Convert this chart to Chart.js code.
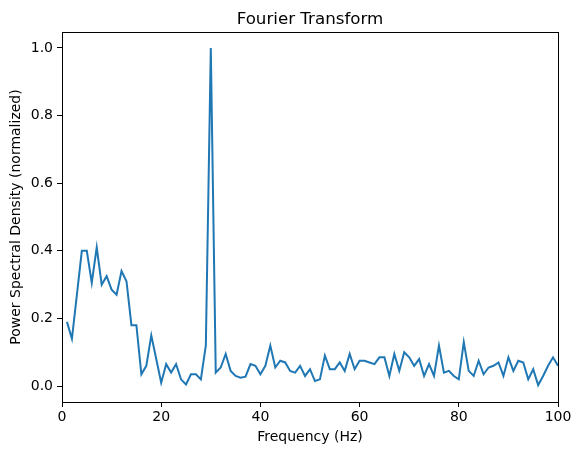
<!DOCTYPE html>
<html>
<head>
<meta charset="utf-8">
<script src="https://cdn.jsdelivr.net/npm/chart.js@4"></script>
<style>
  html, body { margin: 0; padding: 0; background: #fff; }
</style>
</head>
<body>
<canvas id="myChart" width="580" height="455"></canvas>
<script>
// Data
var freqs = [];
for (var f = 1; f <= 100; f++) freqs.push(f);

var psd = [
  0.19, 0.14, 0.27, 0.40, 0.40, 0.305, 0.41, 0.30, 0.325, 0.285,
  0.27, 0.34, 0.31, 0.18, 0.18, 0.035, 0.06, 0.15, 0.08, 0.01,
  0.065, 0.04, 0.065, 0.02, 0.005, 0.035, 0.035, 0.02, 0.12, 1.0,
  0.04, 0.055, 0.095, 0.045, 0.03, 0.025, 0.028, 0.065, 0.06, 0.035,
  0.06, 0.12, 0.055, 0.075, 0.07, 0.045, 0.04, 0.06, 0.03, 0.05,
  0.015, 0.02, 0.09, 0.05, 0.05, 0.07, 0.045, 0.095, 0.05, 0.075,
  0.075, 0.07, 0.065, 0.085, 0.085, 0.03, 0.095, 0.045, 0.1, 0.085,
  0.06, 0.08, 0.03, 0.065, 0.03, 0.12, 0.04, 0.045, 0.03, 0.02,
  0.13, 0.045, 0.03, 0.075, 0.035, 0.055, 0.06, 0.07, 0.03, 0.085,
  0.045, 0.075, 0.07, 0.02, 0.05, 0.003, 0.03, 0.06, 0.085, 0.06
];

var xTicks = [0, 20, 40, 60, 80, 100];
var yTicks = [0.0, 0.2, 0.4, 0.6, 0.8, 1.0];

var points = freqs.map(function (x, i) { return { x: x, y: psd[i] }; });

var font = "'DejaVu Sans', sans-serif";

// frame + title centred over the plot area
var framePlugin = {
  id: 'frame',
  afterDraw: function (chart) {
    var ctx = chart.ctx, a = chart.chartArea;
    ctx.save();
    ctx.strokeStyle = '#000';
    ctx.lineWidth = 1;
    ctx.strokeRect(Math.round(a.left) + 0.5, Math.round(a.top) + 0.5,
      Math.round(a.right - a.left), Math.round(a.bottom - a.top));
    ctx.fillStyle = '#000';
    ctx.font = '16.7px ' + font;
    ctx.textAlign = 'center';
    ctx.textBaseline = 'alphabetic';
    ctx.fillText('Fourier Transform', (a.left + a.right) / 2, 24);
    ctx.restore();
  }
};

new Chart(document.getElementById('myChart'), {
  type: 'line',
  data: {
    datasets: [{
      data: points,
      borderColor: '#1f77b4',
      borderWidth: 2,
      pointRadius: 0,
      tension: 0,
      fill: false
    }]
  },
  options: {
    responsive: false,
    animation: false,
    layout: { padding: { top: 32, left: 0, right: 22, bottom: 0 } },
    plugins: { legend: { display: false }, tooltip: { enabled: false } },
    scales: {
      x: {
        type: 'linear',
        min: 0,
        max: 100,
        afterFit: function (s) { s.height = 53; },
        afterBuildTicks: function (s) { s.ticks = xTicks.map(function (v) { return { value: v }; }); },
        grid: { display: true, drawOnChartArea: false, drawTicks: true, tickLength: 5, color: '#000' },
        border: { display: false },
        ticks: { color: '#000', font: { family: font, size: 14 }, padding: 2, maxRotation: 0,
          callback: function (v) { return v; } },
        title: { display: true, text: 'Frequency (Hz)', color: '#000',
          font: { family: font, size: 14 }, padding: { top: 4, bottom: 9 } }
      },
      y: {
        min: -0.047,
        max: 1.047,
        afterFit: function (s) { s.width = 62; },
        afterBuildTicks: function (s) { s.ticks = yTicks.map(function (v) { return { value: v }; }); },
        grid: { display: true, drawOnChartArea: false, drawTicks: true, tickLength: 5, color: '#000' },
        border: { display: false },
        ticks: { color: '#000', font: { family: font, size: 14 }, padding: 4,
          callback: function (v) { return v.toFixed(1); } },
        title: { display: true, text: 'Power Spectral Density (normalized)', color: '#000',
          font: { family: font, size: 14 }, padding: { top: 8, bottom: 4 } }
      }
    }
  },
  plugins: [framePlugin]
});
</script>
</body>
</html>
